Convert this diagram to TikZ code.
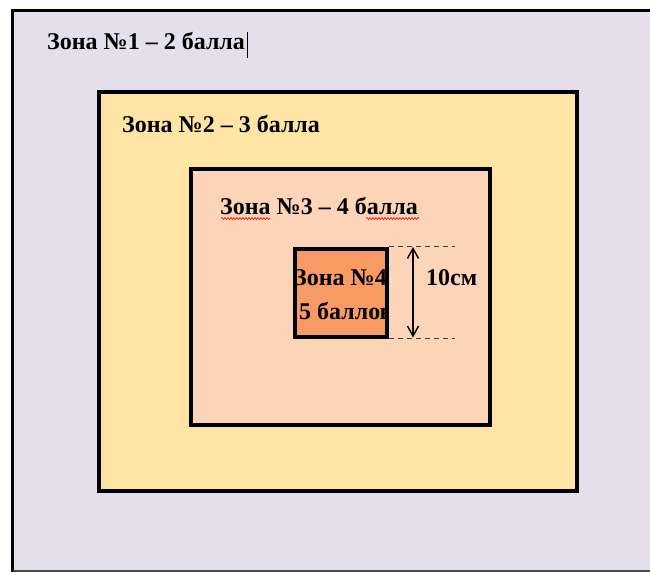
\documentclass[tikz,border=0pt]{standalone}
\usepackage{fontspec}
\setmainfont{Liberation Serif}
\usetikzlibrary{arrows.meta,decorations.pathmorphing}
\definecolor{zoneA}{HTML}{E4DFEC}
\definecolor{zoneB}{HTML}{FEE5A5}
\definecolor{zoneC}{HTML}{FCD4B8}
\definecolor{zoneD}{HTML}{F89A64}
\tikzset{
  frame/.style={draw=black, line width=4pt},
  lbl/.style={font=\bfseries\fontsize{24}{28}\selectfont, inner sep=0pt, anchor=base west},
  dimline/.style={draw=black!75, line width=0.8pt, dash pattern=on 5pt off 4pt},
  dimarrow/.style={line width=1.4pt, {Straight Barb[length=10pt,width=11pt]}-{Straight Barb[length=10pt,width=11pt]}},
  spell/.style={draw=red, line width=0.6pt, decorate, decoration={snake, amplitude=1pt, segment length=3pt}}
}
\begin{document}
\begin{tikzpicture}[x=1pt,y=-1pt]
\useasboundingbox (0,0) rectangle (650,572);
\fill[white] (0,0) rectangle (650,572);
% zone 1 (outer, cut at the right edge)
\fill[zoneA] (12.5,10.5) rectangle (650,571);
\draw[line width=3pt] (650,10.5) -- (12.5,10.5) -- (12.5,572);
\draw[line width=2pt, black!70] (12.5,571) -- (650,571);
% zone 2
\draw[frame, fill=zoneB] (99,92.5) rectangle (577,491);
% zone 3
\draw[frame, fill=zoneC] (190.5,169.5) rectangle (490,424.5);
% zone 4
\fill[zoneD] (294.5,249) rectangle (387,337);
\node[lbl] (t4a) at (294,285) {Зона №4};
\node[lbl] (t4b) at (299,319) {5 баллов};
\fill[zoneC] (389,300) rectangle (396,325);
\draw[frame] (294.5,249) rectangle (387,337);
% labels
\node[lbl] (t1) at (47,50) {Зона №1 – 2 балла};
\draw[line width=0.8pt] (247,32) -- (247,58);
\node[lbl] (t2) at (122,133) {Зона №2 – 3 балла};
\node[lbl] (t3) at (220,214) {Зона №3 – 4 балла};
\draw[spell] (221,218.5) -- (270,218.5);
\draw[spell] (366,218.5) -- (419,218.5);
% dimension
\coordinate (dtl) at (389,246);
\coordinate (dtr) at (455,246);
\coordinate (dbl) at (389,338.5);
\coordinate (dbr) at (455,338.5);
\draw[dimline] (dtl) -- (dtr);
\draw[dimline] (dbl) -- (dbr);
\coordinate (at) at (413,247);
\coordinate (ab) at (413,337.5);
\draw[dimarrow] (at) -- (ab);
\node[lbl] (t10) at (426,285) {10см};
\end{tikzpicture}
\end{document}
